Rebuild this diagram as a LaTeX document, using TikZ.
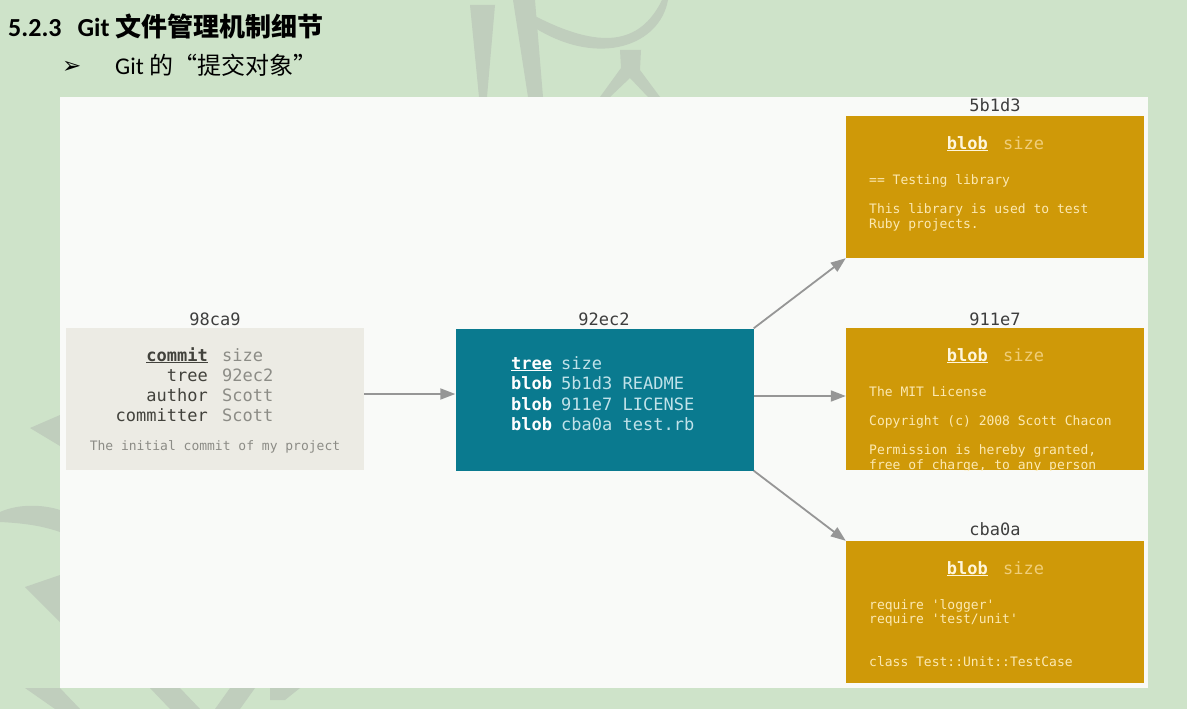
\documentclass[tikz,border=0pt]{standalone}
\usepackage{fontspec}
\setmainfont{Carlito}
\newfontfamily\cjk{Noto Sans CJK SC}
\newfontfamily\monof{DejaVu Sans Mono}
\newfontfamily\dejavu{DejaVu Sans}
\usetikzlibrary{arrows.meta}
\definecolor{bggreen}{RGB}{206,227,201}
\definecolor{deco}{RGB}{192,206,189}
\definecolor{panel}{RGB}{249,250,248}
\definecolor{commitfill}{RGB}{236,235,228}
\definecolor{treefill}{RGB}{10,122,143}
\definecolor{blobfill}{RGB}{207,153,8}
\definecolor{arrowgray}{RGB}{150,150,150}
\definecolor{labeldark}{RGB}{62,62,62}
\definecolor{ckey}{RGB}{66,66,60}
\definecolor{cval}{RGB}{140,140,134}
\definecolor{tval}{RGB}{192,226,233}
\definecolor{bkey}{RGB}{255,246,220}
\definecolor{bsize}{RGB}{240,206,122}
\definecolor{bbody}{RGB}{252,233,178}
\tikzset{
  box/.style={rectangle, inner sep=0pt, minimum width=298pt, minimum height=142pt},
  hashlabel/.style={anchor=base, inner sep=0pt, text=labeldark, font=\monof\fontsize{17}{20}\selectfont},
  big/.style={inner sep=0pt, font=\monof\fontsize{17}{20}\selectfont},
  small/.style={inner sep=0pt, anchor=base west, font=\monof\fontsize{13}{15}\selectfont, text=bbody},
  link/.style={draw=arrowgray, line width=1.8pt, -{Triangle[length=15pt,width=11pt]}},
  decostroke/.style={fill=deco, draw=none}
}
\begin{document}
\begin{tikzpicture}[x=1pt,y=-1pt]
\useasboundingbox (0,0) rectangle (1187,709);
\fill[bggreen] (0,0) rectangle (1187,709);
% background decoration
\fill[decostroke] (470,5) -- (495,5) -- (487,97) -- (479,97) -- cycle;
\fill[decostroke] (513,0) -- (535,0) -- (543,97) -- (528,97) -- cycle;
\fill[decostroke] (533,15) .. controls (600,50) and (640,45) .. (662,0) -- (668,0) .. controls (660,45) and (600,68) .. (535,28) -- cycle;
\fill[decostroke] (620,50) -- (641,50) -- (640,70) -- (660,97) -- (648,97) -- (630,78) -- (610,97) -- (600,97) -- (621,68) -- cycle;
\fill[decostroke] (30,428) -- (60,415) -- (60,446) -- cycle;
\fill[decostroke] (0,512) .. controls (20,503) and (45,505) .. (60,510) -- (60,532) .. controls (40,525) and (20,523) .. (0,522) -- cycle;
\fill[decostroke] (25,587) -- (60,575) -- (60,622) -- cycle;
\fill[decostroke] (25,688) -- (60,688) -- (80,709) -- (55,709) -- cycle;
\fill[decostroke] (150,688) -- (180,688) -- (200,709) -- (170,709) -- cycle;
\fill[decostroke] (230,688) -- (255,688) -- (240,709) -- (215,709) -- cycle;
\fill[decostroke] (270,688) -- (300,688) -- (285,700) -- (270,700) -- cycle;
% title
\node[anchor=base west, inner sep=0pt, font=\fontsize{26}{30}\selectfont\bfseries] (title) at (8,37)
  {5.2.3\hspace{16pt}Git {\cjk\bfseries 文件管理机制细节}};
\node[anchor=base west, inner sep=0pt, font=\dejavu\fontsize{23}{26}\selectfont] (bullet) at (62,74) {➢};
\node[anchor=base west, inner sep=0pt, font=\fontsize{24}{28}\selectfont] (subtitle) at (115,75)
  {Git {\cjk 的“提交对象”}};
% panel
\fill[panel] (60,97) rectangle (1148,688);
% boxes
\node[box, fill=commitfill] (commit) at (215,398.5) {};
\node[box, fill=treefill] (tree) at (604.5,399.5) {};
\node[box, fill=blobfill] (blobA) at (995,187) {};
\node[box, fill=blobfill] (blobB) at (995,399) {};
\node[box, fill=blobfill] (blobC) at (995,612) {};
% hash labels
\node[hashlabel] (lcommit) at (215,325) {98ca9};
\node[hashlabel] (ltree) at (604,325) {92ec2};
\node[hashlabel] (lblobA) at (995,111) {5b1d3};
\node[hashlabel] (lblobB) at (995,325) {911e7};
\node[hashlabel] (lblobC) at (995,535) {cba0a};
% commit content
\node[big, anchor=base east, text=ckey] (ck1) at (208,361) {\underline{\textbf{commit}}};
\node[big, anchor=base east, text=ckey] (ck2) at (208,381) {tree};
\node[big, anchor=base east, text=ckey] (ck3) at (208,401) {author};
\node[big, anchor=base east, text=ckey] (ck4) at (208,421) {committer};
\node[big, anchor=base west, text=cval] (cv1) at (222,361) {size};
\node[big, anchor=base west, text=cval] (cv2) at (222,381) {92ec2};
\node[big, anchor=base west, text=cval] (cv3) at (222,401) {Scott};
\node[big, anchor=base west, text=cval] (cv4) at (222,421) {Scott};
\node[inner sep=0pt, anchor=base, font=\monof\fontsize{13}{15}\selectfont, text=cval] (cmsg) at (215,450) {The initial commit of my project};
% tree content
\node[big, anchor=base west, text=white] (tk1) at (511,369) {\underline{\textbf{tree}}};
\node[big, anchor=base west, text=white] (tk2) at (511,389.5) {\textbf{blob}};
\node[big, anchor=base west, text=white] (tk3) at (511,410) {\textbf{blob}};
\node[big, anchor=base west, text=white] (tk4) at (511,430.5) {\textbf{blob}};
\node[big, anchor=base west, text=tval] (tv1) at (561,369) {size};
\node[big, anchor=base west, text=tval] (tv2) at (561,389.5) {5b1d3 README};
\node[big, anchor=base west, text=tval] (tv3) at (561,410) {911e7 LICENSE};
\node[big, anchor=base west, text=tval] (tv4) at (561,430.5) {cba0a test.rb};
% blob A
\node[big, anchor=base east, text=bkey] (ak) at (988,149) {\underline{\textbf{blob}}};
\node[big, anchor=base west, text=bsize] (av) at (1003,149) {size};
\node[small] (a1) at (869,184) {== Testing library};
\node[small] (a2) at (869,213) {This library is used to test};
\node[small] (a3) at (869,228) {Ruby projects.};
% blob B
\begin{scope}
\clip (846,328) rectangle (1144,470);
\node[big, anchor=base east, text=bkey] (bk) at (988,361) {\underline{\textbf{blob}}};
\node[big, anchor=base west, text=bsize] (bv) at (1003,361) {size};
\node[small] (b1) at (869,396) {The MIT License};
\node[small] (b2) at (869,425) {Copyright (c) 2008 Scott Chacon};
\node[small] (b3) at (869,454) {Permission is hereby granted,};
\node[small] (b4) at (869,469) {free of charge, to any person};
\end{scope}
% blob C
\node[big, anchor=base east, text=bkey] (ck) at (988,574) {\underline{\textbf{blob}}};
\node[big, anchor=base west, text=bsize] (cv) at (1003,574) {size};
\node[small] (c1) at (869,609) {require 'logger'};
\node[small] (c2) at (869,623) {require 'test/unit'};
\node[small] (c3) at (869,666) {class Test::Unit::TestCase};
% arrows
\coordinate (cout) at ([yshift=4.5pt]commit.east);
\coordinate (tout) at ([yshift=3.5pt]tree.east);
\draw[link] (cout) -- (cout -| tree.west);
\draw[link] (tree.north east) -- (blobA.south west);
\draw[link] (tout) -- (tout -| blobB.west);
\draw[link] (tree.south east) -- (blobC.north west);
\end{tikzpicture}
\end{document}
